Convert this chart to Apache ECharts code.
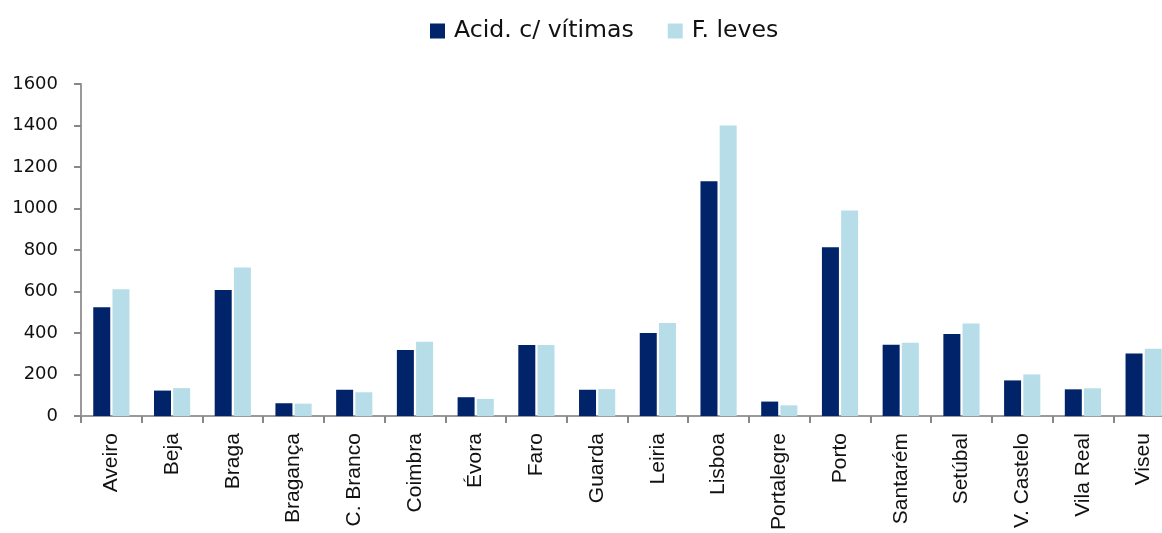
<!DOCTYPE html>
<html>
<head>
<meta charset="utf-8">
<script src="https://cdn.jsdelivr.net/npm/echarts@6/dist/echarts.min.js"></script>
<style>
  html, body { margin: 0; padding: 0; background: #fff; overflow: hidden; }
  /* a bit wider than the window: the last category is cut off at the right edge */
  #chart { width: 1180px; height: 533px; }
</style>
</head>
<body>
<div id="chart"></div>
<script>
  // distritos
  var categories = ['Aveiro', 'Beja', 'Braga', 'Bragança', 'C. Branco', 'Coimbra', 'Évora', 'Faro',
    'Guarda', 'Leiria', 'Lisboa', 'Portalegre', 'Porto', 'Santarém', 'Setúbal', 'V. Castelo',
    'Vila Real', 'Viseu'];
  var acidVitimas = [524, 123, 608, 62, 127, 319, 91, 342, 127, 401, 1132, 70, 813, 344, 395, 172, 129, 302];
  var feridosLeves = [611, 135, 716, 60, 115, 358, 83, 342, 130, 449, 1400, 52, 990, 353, 446, 201, 134, 325];
  var yTicks = [0, 200, 400, 600, 800, 1000, 1200, 1400, 1600];

  var chart = echarts.init(document.getElementById('chart'));
  var option = {
    animation: false,
    legend: {
      data: ['Acid. c/ vítimas', 'F. leves'],
      left: 430,
      top: 19,
      padding: 0,
      icon: 'rect',
      itemWidth: 15,
      itemHeight: 15,
      itemGap: 34,
      textStyle: {
        fontFamily: 'DejaVu Sans',
        fontSize: 23.6,
        color: '#111',
        padding: [0, 0, 0, 4]
      }
    },
    grid: {
      left: 81,
      top: 84,
      bottom: 114,
      width: 1093,
      containLabel: false
    },
    xAxis: {
      type: 'category',
      data: categories,
      axisLine: { lineStyle: { color: '#999', width: 2 } },
      axisTick: { show: true, length: 7, lineStyle: { color: '#888', width: 2 } },
      axisLabel: {
        rotate: 90,
        margin: 17,
        interval: 0,
        fontFamily: 'Liberation Sans',
        fontSize: 21,
        color: '#111'
      }
    },
    yAxis: {
      type: 'value',
      min: yTicks[0],
      max: yTicks[yTicks.length - 1],
      interval: 200,
      splitLine: { show: false },
      axisLine: { show: true, lineStyle: { color: '#999', width: 2 } },
      axisTick: { show: true, length: 7, lineStyle: { color: '#888', width: 2 } },
      axisLabel: {
        margin: 23,
        fontFamily: 'DejaVu Sans',
        fontSize: 18,
        color: '#111',
        formatter: function (v) { return String(v); }
      }
    },
    series: [{
      name: 'Acid. c/ vítimas',
      type: 'bar',
      data: acidVitimas,
      barWidth: 17,
      barGap: '13%',
      itemStyle: { color: '#00236A' }
    }, {
      name: 'F. leves',
      type: 'bar',
      data: feridosLeves,
      barWidth: 17,
      itemStyle: { color: '#B7DEE8' }
    }]
  };
  chart.setOption(option);
  window.addEventListener('resize', chart.resize);
</script>
</body>
</html>
